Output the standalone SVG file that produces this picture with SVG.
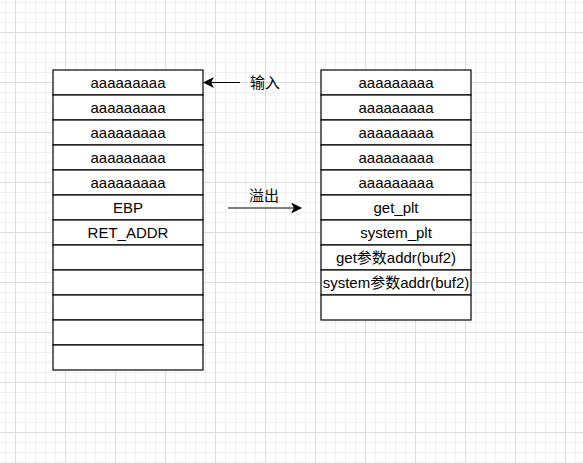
<svg xmlns="http://www.w3.org/2000/svg" width="583" height="463" viewBox="0 0 583 463">
<defs>
<pattern id="minor" x="5" y="2" width="10" height="10" patternUnits="userSpaceOnUse"><path d="M0 0.5H10M0.5 0V10" fill="none" stroke="#f0f0f0" stroke-width="1"/></pattern>
<pattern id="major" x="15" y="32" width="50" height="50" patternUnits="userSpaceOnUse"><path d="M0 0.5H50M0.5 0V50" fill="none" stroke="#dcdcdc" stroke-width="1"/></pattern>
<marker id="arr" viewBox="0 0 10 10" refX="9" refY="5" markerWidth="11" markerHeight="11" markerUnits="userSpaceOnUse" orient="auto"><path d="M0 0L10 5L0 10L2.5 5Z" fill="#000"/></marker>
</defs>
<style>
.cell{fill:#fff;stroke:#000;stroke-width:1.2}
.t{font-family:"Liberation Sans","Noto Sans CJK SC",sans-serif;font-size:15px;fill:#000;text-anchor:middle;dominant-baseline:central}
.c{stroke:#000;stroke-width:1.2;fill:none}
</style>
<rect width="583" height="463" fill="#fff"/>
<rect width="583" height="463" fill="url(#minor)"/>
<rect width="583" height="463" fill="url(#major)"/>
<g id="left-stack">
<rect class="cell" x="53" y="70" width="150" height="25"/><text class="t" x="128" y="82.5">aaaaaaaaa</text>
<rect class="cell" x="53" y="95" width="150" height="25"/><text class="t" x="128" y="107.5">aaaaaaaaa</text>
<rect class="cell" x="53" y="120" width="150" height="25"/><text class="t" x="128" y="132.5">aaaaaaaaa</text>
<rect class="cell" x="53" y="145" width="150" height="25"/><text class="t" x="128" y="157.5">aaaaaaaaa</text>
<rect class="cell" x="53" y="170" width="150" height="25"/><text class="t" x="128" y="182.5">aaaaaaaaa</text>
<rect class="cell" x="53" y="195" width="150" height="25"/><text class="t" x="128" y="207.5">EBP</text>
<rect class="cell" x="53" y="220" width="150" height="25"/><text class="t" x="128" y="232.5">RET_ADDR</text>
<rect class="cell" x="53" y="245" width="150" height="25"/>
<rect class="cell" x="53" y="270" width="150" height="25"/>
<rect class="cell" x="53" y="295" width="150" height="25"/>
<rect class="cell" x="53" y="320" width="150" height="25"/>
<rect class="cell" x="53" y="345" width="150" height="25"/>
</g>
<g id="right-stack">
<rect class="cell" x="321" y="70" width="150" height="25"/><text class="t" x="396" y="82.5">aaaaaaaaa</text>
<rect class="cell" x="321" y="95" width="150" height="25"/><text class="t" x="396" y="107.5">aaaaaaaaa</text>
<rect class="cell" x="321" y="120" width="150" height="25"/><text class="t" x="396" y="132.5">aaaaaaaaa</text>
<rect class="cell" x="321" y="145" width="150" height="25"/><text class="t" x="396" y="157.5">aaaaaaaaa</text>
<rect class="cell" x="321" y="170" width="150" height="25"/><text class="t" x="396" y="182.5">aaaaaaaaa</text>
<rect class="cell" x="321" y="195" width="150" height="25"/><text class="t" x="396" y="207.5">get_plt</text>
<rect class="cell" x="321" y="220" width="150" height="25"/><text class="t" x="396" y="232.5">system_plt</text>
<rect class="cell" x="321" y="245" width="150" height="25"/><text class="t" x="396" y="257.5">get参数addr(buf2)</text>
<rect class="cell" x="321" y="270" width="150" height="25"/><text class="t" x="396" y="282.5">system参数addr(buf2)</text>
<rect class="cell" x="321" y="295" width="150" height="25"/>
</g>
<g id="connectors">
<path class="c" d="M240 82.5H204" marker-end="url(#arr)"/>
<path class="c" d="M228 208H301" marker-end="url(#arr)"/>
</g>
<g id="labels">
<text class="t" x="265" y="82.5">输入</text>
<text class="t" x="264" y="195">溢出</text>
</g>
</svg>
